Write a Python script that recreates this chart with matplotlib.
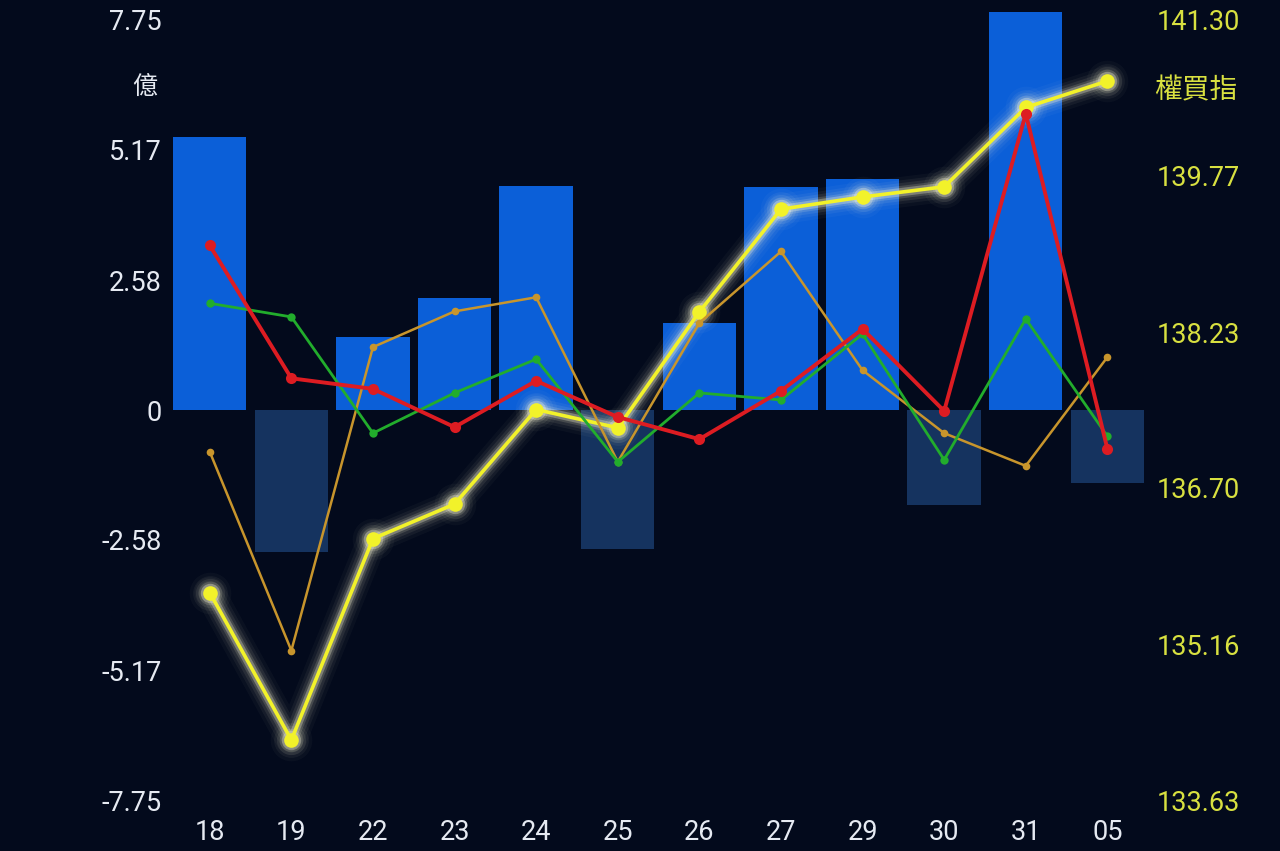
import numpy as np
import matplotlib.pyplot as plt

plt.rcParams['font.family'] = ['Roboto', 'Noto Sans CJK TC', 'DejaVu Sans']

# Data
dates = ['18', '19', '22', '23', '24', '25', '26', '27', '29', '30', '31', '05']
flow = [5.42, -2.82, 1.45, 2.22, 4.46, -2.76, 1.73, 4.44, 4.60, -1.88, 7.90, -1.45]
index_val = [135.67, 134.22, 136.20, 136.54, 137.47, 137.29, 138.43, 139.44,
             139.56, 139.66, 140.44, 140.70]
red_vals = [3.27, 0.63, 0.42, -0.34, 0.58, -0.14, -0.58, 0.38, 1.61, -0.02, 5.89, -0.77]
green_vals = [2.12, 1.85, -0.46, 0.34, 1.01, -1.03, 0.34, 0.20, 1.51, -0.99, 1.81, -0.52]
orange_vals = [-0.83, -4.78, 1.25, 1.96, 2.24, -1.03, 1.73, 3.15, 0.79, -0.46, -1.11, 1.05]

left_ticks = [7.75, 5.17, 2.58, 0, -2.58, -5.17, -7.75]
right_ticks = [141.30, 139.77, 138.23, 136.70, 135.16, 133.63]

BG = '#030a1c'
WHITE = '#e6eaf2'
YEL_TXT = '#d8e040'

x = np.arange(len(dates))

fig = plt.figure(figsize=(12.8, 8.51), dpi=100, facecolor=BG)
ax = fig.add_axes([0.132, 0.0599, 0.765, 0.9166])
ax.set_facecolor(BG)

bar_colors = ['#0b5fd8' if v >= 0 else '#15335f' for v in flow]
ax.bar(x, flow, width=0.9, color=bar_colors, clip_on=False, zorder=1)

ax.set_xlim(-0.5, len(dates) - 0.5)
ax.set_ylim(-7.75, 7.75)
ax.set_yticks(left_ticks)
ax.set_yticklabels(['7.75', '5.17', '2.58', '0', '-2.58', '-5.17', '-7.75'])
ax.set_xticks(x)
ax.set_xticklabels(dates)
ax.tick_params(axis='both', length=0, colors=WHITE, labelsize=19.5)
ax.tick_params(axis='y', pad=5)
ax.tick_params(axis='x', pad=14)
for s in ax.spines.values():
    s.set_visible(False)

# right axis: index line with glow
ax2 = ax.twinx()
ax2.set_ylim(133.63, 141.30)
ax2.set_yticks(right_ticks)
ax2.set_yticklabels(['%.2f' % t for t in right_ticks])
ax2.tick_params(axis='y', length=0, colors=YEL_TXT, labelsize=19.5, pad=6)
for s in ax2.spines.values():
    s.set_visible(False)

for lw, a in [(22, 0.03), (17, 0.05), (13, 0.08), (9, 0.14), (6, 0.3)]:
    ax2.plot(x, index_val, color='#fffbd8', lw=lw, alpha=a,
             solid_capstyle='round', solid_joinstyle='round')
    ax2.plot(x, index_val, 'o', color='#fffbd8', ms=lw + 8, alpha=a, mec='none')
ax2.plot(x, index_val, color='#f2f22a', lw=2.6, marker='o', ms=10.5, mec='none')

# other lines on left scale, drawn on top
ax3 = ax.twinx()
ax3.set_ylim(-7.75, 7.75)
ax3.set_yticks([])
for s in ax3.spines.values():
    s.set_visible(False)
ax3.plot(x, orange_vals, color='#c8952c', lw=1.8, marker='o', ms=5.5, mec='none')
ax3.plot(x, green_vals, color='#22ad2c', lw=2.0, marker='o', ms=6, mec='none')
ax3.plot(x, red_vals, color='#dd1c22', lw=2.8, marker='o', ms=8, mec='none')

fig.text(145 / 1280, 1 - 88 / 851, '億', color=WHITE, fontsize=18,
         ha='center', va='center')
fig.text(1196 / 1280, 1 - 91 / 851, '權買指', color=YEL_TXT, fontsize=20,
         ha='center', va='center')

fig.savefig('out.png', dpi=100, facecolor=BG)
